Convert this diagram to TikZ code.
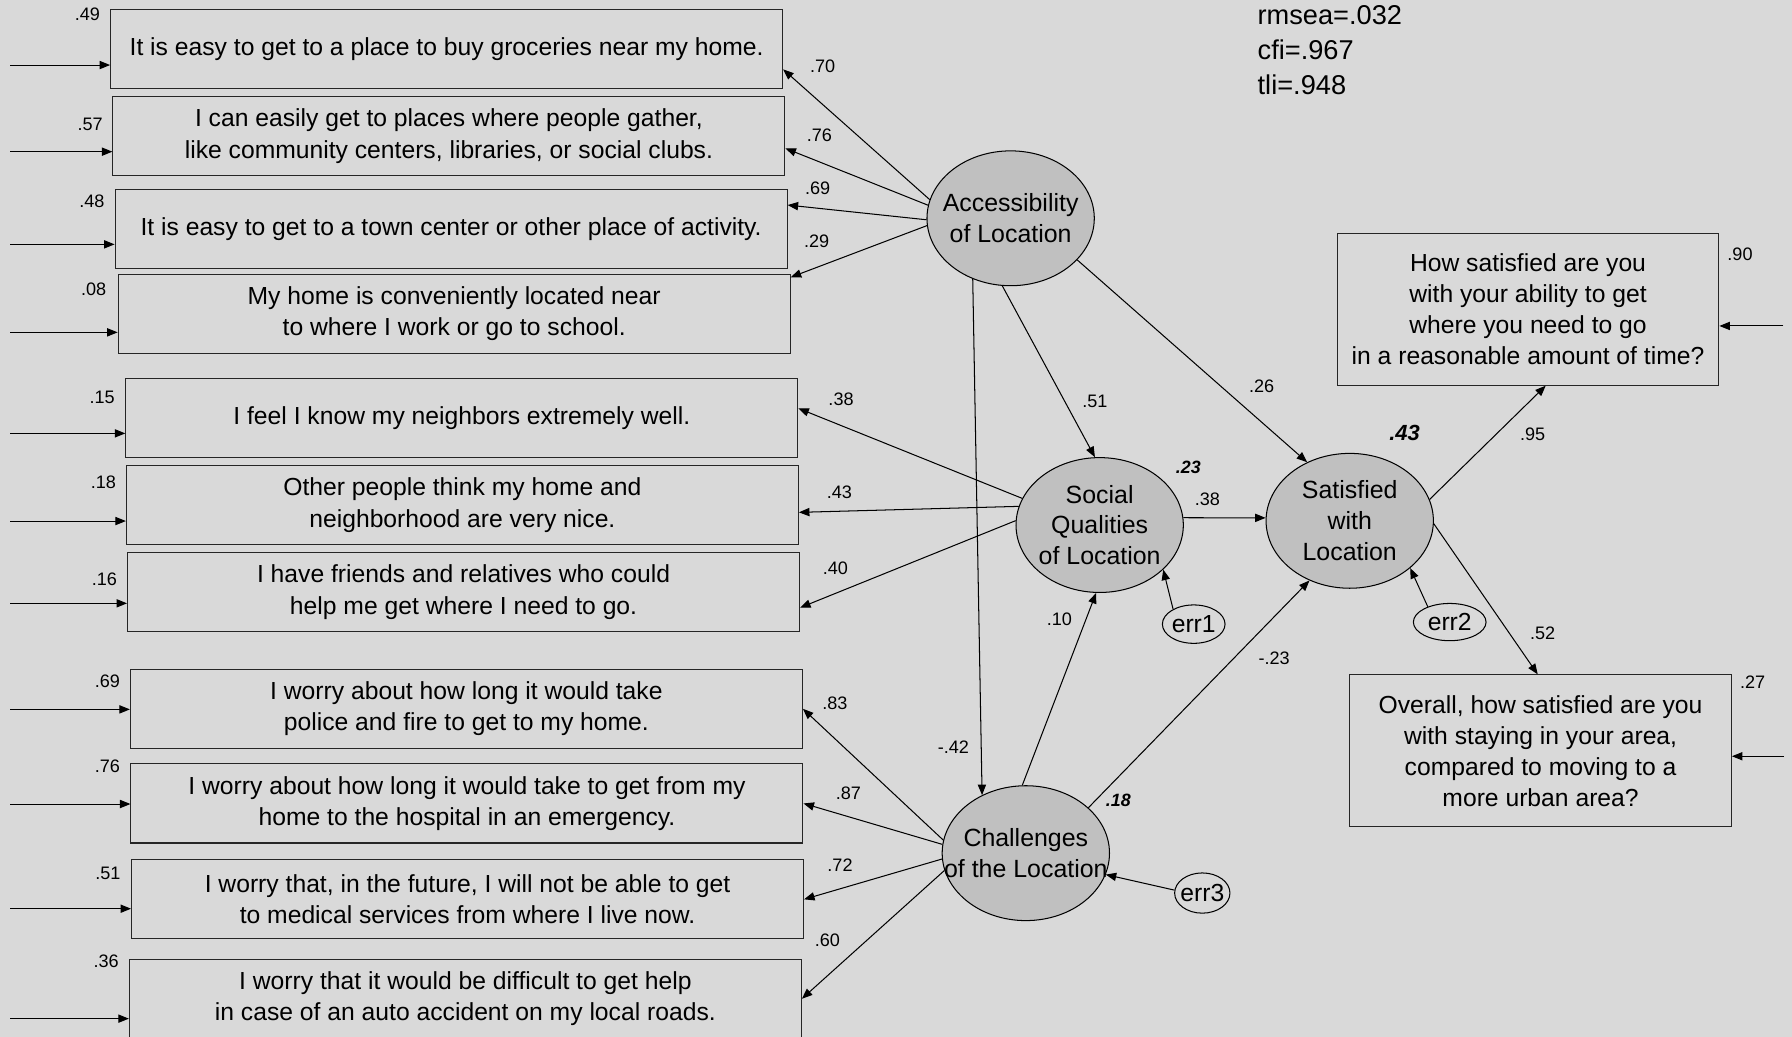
\documentclass[tikz,border=0pt]{standalone}
\usepackage{fontspec}
\setmainfont{Liberation Sans}
\usetikzlibrary{shapes.geometric,arrows.meta,calc}
\definecolor{bggray}{RGB}{217,217,217}
\definecolor{latentgray}{RGB}{192,192,192}
\begin{document}
\begin{tikzpicture}[x=0.5pt,y=-0.5pt,line width=0.45pt,
  >={Triangle[length=4.6pt,width=3.6pt]},
  font=\fontsize{10.8}{13.8}\selectfont,
  item/.style={draw=black!85, rectangle, align=center, inner sep=0pt, minimum width=294pt, minimum height=34.6pt},
  answer/.style={item, minimum width=167pt, minimum height=66.5pt, font=\fontsize{10.8}{13.6}\selectfont},
  latent/.style={draw, ellipse, fill=latentgray, inner sep=0pt, minimum width=73.2pt, minimum height=59pt},
  ltext/.style={align=center, font=\fontsize{10.9}{13.5}\selectfont},
  err/.style={draw, ellipse, inner sep=0pt, minimum height=16.8pt},
  coef/.style={inner sep=0pt, font=\fontsize{7.9}{9}\selectfont},
  rsq/.style={inner sep=0pt, font=\fontsize{7.8}{9}\bfseries\itshape\selectfont}]
\useasboundingbox (0,0) rectangle (1568,907);
\fill[bggray] (0,0) rectangle (1568,907);

% observed items
\node[item] (b1) at (390.8,42.7) {It is easy to get to a place to buy groceries near my home.};
\node[item] (b2) at (392.8,119.2) {I can easily get to places where people gather,\\like community centers, libraries, or social clubs.};
\node[item] (b3) at (394.7,200.1) {It is easy to get to a town center or other place of activity.};
\node[item] (b4) at (397.4,274.4) {My home is conveniently located near\\to where I work or go to school.};
\node[item] (b5) at (404.1,365.6) {I feel I know my neighbors extremely well.};
\node[item] (b6) at (404.6,441.9) {Other people think my home and\\neighborhood are very nice.};
\node[item] (b7) at (405.6,518.1) {I have friends and relatives who could\\help me get where I need to go.};
\node[item] (b8) at (408.1,620.2) {I worry about how long it would take\\police and fire to get to my home.};
\node[item] (b9) at (408.6,703) {I worry about how long it would take to get from my\\home to the hospital in an emergency.};
\node[item] (b10) at (409.1,786.9) {I worry that, in the future, I will not be able to get\\to medical services from where I live now.};
\node[item] (b11) at (407.2,873.9) {I worry that it would be difficult to get help\\in case of an auto accident on my local roads.};
\node[answer] (r1) at (1337,270.5) {How satisfied are you\\with your ability to get\\where you need to go\\in a reasonable amount of time?};
\node[answer] (r2) at (1348,657) {Overall, how satisfied are you\\with staying in your area,\\compared to moving to a\\more urban area?};

% latent variables and errors
\node[latent, label={[ltext]center:{Accessibility\\of Location}}] (acc) at (884.3,191) {};
\node[latent, label={[ltext]center:{Social\\Qualities\\of Location}}] (soc) at (962.2,459.4) {};
\node[latent, label={[ltext]center:{Satisfied\\with\\Location}}] (sat) at (1181,455.7) {};
\node[latent, label={[ltext]center:{Challenges\\of the Location}}] (chal) at (897.6,746.5) {};
\node[err, minimum width=27.4pt, label=center:err1] (err1) at (1044.5,546.1) {};
\node[err, minimum width=31.8pt, minimum height=16.3pt, label=center:err2] (err2) at (1268.5,544.3) {};
\node[err, minimum width=24.2pt, minimum height=17.6pt, label=center:err3] (err3) at (1052,781.4) {};

% fit
\node[anchor=west, align=left, inner sep=0pt, font=\fontsize{11.9}{15.3}\selectfont] (fit) at (1100,44) {rmsea=.032\\cfi=.967\\tli=.948};

% paths
\draw[->] (acc.167) -- ($(b1.east)+(0,18)$);
\draw[->] (acc.171) -- ($(b2.east)+(0,10.6)$);
\draw[->] (acc.181) -- ($(b3.east)+(0,-20.7)$);
\draw[->] (acc.185) -- ($(b4.east)+(0,-31.8)$);
\draw[->] (acc.263) -- (soc.94);
\draw[->] (acc.328) -- (sat.126);
\draw[->] (acc.238) -- (chal.127);
\draw[->] (soc.161) -- ($(b5.east)+(0,-8.3)$);
\draw[->] (soc.167) -- ($(b6.east)+(0,6.4)$);
\draw[->] (soc.177) -- ($(b7.east)+(0,13.6)$);
\draw[->] (soc.5) -- (sat.178);
\draw[->] (chal.93) -- (soc.267);
\draw[->] (chal.36) -- (sat.236);
\draw[->] (chal.171) -- (b8.east);
\draw[->] (chal.174) -- (b9.east);
\draw[->] (chal.184) -- (b10.east);
\draw[->] (chal.192) -- (b11.east);
\draw[->] (err1.144) -- (soc.325);
\draw[->] (err2.145) -- (sat.322);
\draw[->] (err3.174) -- (chal.345);
\draw[->] (sat.15) -- ($(r1.south)+(15.5,0)$);
\draw[->] (sat.358) -- ($(r2.north)+(-2.5,0)$);

% item errors
\coordinate (e1) at (9,56.9);
\coordinate (e2) at (9,132.7);
\coordinate (e3) at (9,213.8);
\coordinate (e4) at (9,290.8);
\coordinate (e5) at (9,379.2);
\coordinate (e6) at (9,455.9);
\coordinate (e7) at (9,527.9);
\coordinate (e8) at (9,620.7);
\coordinate (e9) at (9,703.5);
\coordinate (e10) at (9,795.1);
\coordinate (e11) at (9,891.3);
\coordinate (er1) at (1560.4,285.2);
\coordinate (er2) at (1561,661.7);
\draw[->] (e1) -- (e1 -| b1.west);
\draw[->] (e2) -- (e2 -| b2.west);
\draw[->] (e3) -- (e3 -| b3.west);
\draw[->] (e4) -- (e4 -| b4.west);
\draw[->] (e5) -- (e5 -| b5.west);
\draw[->] (e6) -- (e6 -| b6.west);
\draw[->] (e7) -- (e7 -| b7.west);
\draw[->] (e8) -- (e8 -| b8.west);
\draw[->] (e9) -- (e9 -| b9.west);
\draw[->] (e10) -- (e10 -| b10.west);
\draw[->] (e11) -- (e11 -| b11.west);
\draw[->] (er1) -- (er1 -| r1.east);
\draw[->] (er2) -- (er2 -| r2.east);

% squared multiple correlations
\node[coef] (v1) at (76.4,12.3) {.49};
\node[coef] (v2) at (78.9,108.5) {.57};
\node[coef] (v3) at (80.4,175.9) {.48};
\node[coef] (v4) at (81.9,253.2) {.08};
\node[coef] (v5) at (89.4,347.7) {.15};
\node[coef] (v6) at (90.4,422) {.18};
\node[coef] (v7) at (91.4,506.9) {.16};
\node[coef] (v8) at (93.9,596.5) {.69};
\node[coef] (v9) at (93.9,670.3) {.76};
\node[coef] (v10) at (94.4,764.2) {.51};
\node[coef] (v11) at (92.9,841.5) {.36};
\node[coef] (vr1) at (1522.5,222.3) {.90};
\node[coef] (vr2) at (1533.6,597.3) {.27};
\node[rsq] (vsoc) at (1039.8,408.9) {.23};
\node[rsq] (vchal) at (978.5,700) {.18};
\node[rsq, font=\fontsize{9.6}{11}\bfseries\itshape\selectfont] (vsat) at (1229,379.2) {.43};

% weights
\node[coef] (l1) at (719.8,58.3) {.70};
\node[coef] (l2) at (717,118) {.76};
\node[coef] (l3) at (715.5,164.8) {.69};
\node[coef] (l4) at (714.6,211.5) {.29};
\node[coef] (l5) at (735.9,349) {.38};
\node[coef] (l6) at (734.4,430.8) {.43};
\node[coef] (l7) at (730.9,497.3) {.40};
\node[coef] (l8) at (730.6,615.4) {.83};
\node[coef] (l9) at (742.3,694.2) {.87};
\node[coef] (l10) at (735,756.9) {.72};
\node[coef] (l11) at (724,822.5) {.60};
\node[coef] (w1) at (958.1,350.9) {.51};
\node[coef] (w2) at (1104,338.3) {.26};
\node[coef] (w3) at (834.2,653.9) {-.42};
\node[coef] (w4) at (1056.4,436.6) {.38};
\node[coef] (w5) at (926.9,541.9) {.10};
\node[coef] (w6) at (1114.8,576) {-.23};
\node[coef] (w7) at (1341.1,379.8) {.95};
\node[coef] (w8) at (1349.8,554.2) {.52};
\end{tikzpicture}
\end{document}
